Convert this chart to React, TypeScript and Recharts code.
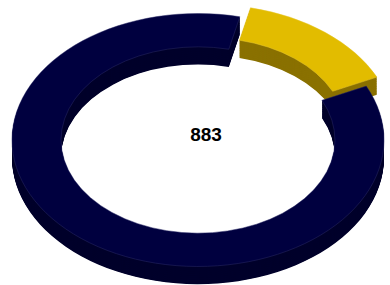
import React from "react";
import { PieChart, Pie, Cell } from "recharts";

// two slices of one donut; the first one is pulled out of the ring
const NAMES = ["Selected", "Other"];
const VALUES = [127, 756];
const TOP_COLORS = ["#E2BC00", "#00003F"];
const SIDE_COLORS = ["#8A7100", "#00002B"];
const EDGE_COLORS = ["#E8C830", "#2A2A66"];
const CENTER_LABEL = "883";

const data = NAMES.map((name, i) => ({ name, value: VALUES[i] }));

const W = 390;
const H = 285;
const TILT = 0.68; // vertical squash to fake the 3d view
const CX = 198;
const CY = 140 / TILT;
const OUTER = 186;
const INNER = 137;
const DEPTH = 26;
const START = 77;
const EXPLODE = 17;

const total = VALUES.reduce((a, b) => a + b, 0);
const midAngle = START - ((VALUES[0] / total) * 360) / 2;
const EX = EXPLODE * Math.cos((midAngle * Math.PI) / 180);
const EY = -EXPLODE * Math.sin((midAngle * Math.PI) / 180);

function ring(key: string, slice: number, dy: number, top: boolean) {
  const shift = slice === 0;
  return (
    <Pie
      key={key}
      data={data}
      dataKey="value"
      nameKey="name"
      cx={CX + (shift ? EX : 0)}
      cy={CY + dy + (shift ? EY : 0)}
      innerRadius={INNER}
      outerRadius={OUTER}
      startAngle={START}
      endAngle={START - 360}
      isAnimationActive={false}
      label={false}
      labelLine={false}
    >
      {data.map((_, i) => (
        <Cell
          key={`c-${i}`}
          fill={i === slice ? (top ? TOP_COLORS[i] : SIDE_COLORS[i]) : "transparent"}
          stroke={i === slice && top ? EDGE_COLORS[i] : "none"}
          strokeWidth={top ? 0.6 : 0}
        />
      ))}
    </Pie>
  );
}

export default function App() {
  const layers: React.ReactNode[] = [];
  for (let k = DEPTH; k >= 1; k--) {
    layers.push(ring(`side-0-${k}`, 0, k, false));
    layers.push(ring(`side-1-${k}`, 1, k, false));
  }
  layers.push(ring("top-0", 0, 0, true));
  layers.push(ring("top-1", 1, 0, true));

  return (
    <div
      style={{
        position: "fixed",
        left: 0,
        top: 0,
        width: W,
        height: H,
        overflow: "hidden",
        background: "#fff",
      }}
    >
      <div style={{ transform: `scaleY(${TILT})`, transformOrigin: "0 0" }}>
        <PieChart
          width={W}
          height={Math.ceil(H / TILT)}
          margin={{ top: 0, right: 0, bottom: 0, left: 0 }}
        >
          {layers}
        </PieChart>
      </div>
      <div
        style={{
          position: "absolute",
          left: 156,
          top: 124,
          width: 100,
          textAlign: "center",
          fontFamily: "'Liberation Sans', Arial, sans-serif",
          fontWeight: "bold",
          fontSize: 19,
          color: "#000",
        }}
      >
        {CENTER_LABEL}
      </div>
    </div>
  );
}
